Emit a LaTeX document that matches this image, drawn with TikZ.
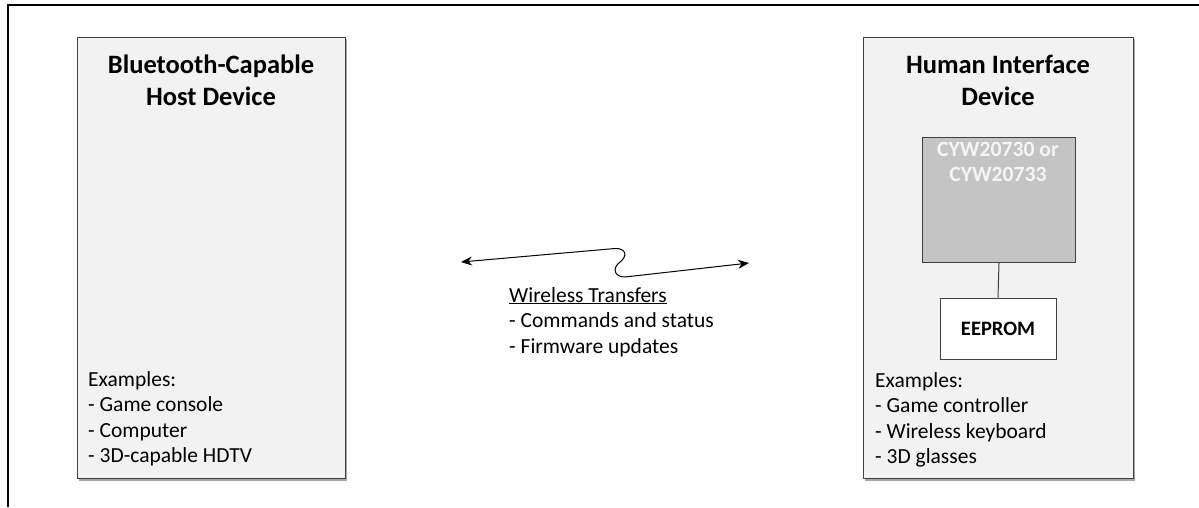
\documentclass[tikz,border=0pt]{standalone}
\usepackage{fontspec}
\setmainfont{Carlito}
\usetikzlibrary{arrows.meta}
\begin{document}
\begin{tikzpicture}[x=1pt,y=-1pt,
  devbox/.style={draw=black!75,line width=1pt,fill=black!5},
  shadowbox/.style={fill=black!35,draw=none},
  chipbox/.style={draw=black!75,line width=1pt,fill=black!23},
  membox/.style={draw=black!75,line width=1pt,fill=white},
  title/.style={font=\fontsize{26.5}{32}\selectfont\bfseries,align=center,anchor=north,inner sep=0pt},
  body/.style={font=\fontsize{21.5}{25.5}\selectfont,align=left,anchor=north west,inner sep=0pt},
  link/.style={line width=1pt,{Stealth[length=11pt,width=9pt]}-{Stealth[length=11pt,width=9pt]}}
]
\useasboundingbox (0,0) rectangle (1199,507);
% outer frame (partly visible)
\coordinate (f1) at (8,5);
\coordinate (f2) at (1199,5);
\coordinate (f3) at (8,507);
\draw[line width=2pt] (f2) -- (f1) -- (f3);

% left device box
\fill[shadowbox] (79,39) rectangle (347,481);
\node[devbox,minimum width=268pt,minimum height=441pt,anchor=north west,inner sep=0pt] (host) at (77,37) {};
\node[title] (hosttitle) at (211,55) {Bluetooth-Capable\\Host Device};
\node[body] (hostex) at (88,371) {Examples:\\- Game console\\- Computer\\- 3D-capable HDTV};

% right device box
\fill[shadowbox] (865,39) rectangle (1135,481);
\node[devbox,minimum width=270pt,minimum height=441pt,anchor=north west,inner sep=0pt] (hid) at (863,37) {};
\node[title] (hidtitle) at (998,55) {Human Interface\\Device};

\node[chipbox,minimum width=153pt,minimum height=125pt,anchor=north west,inner sep=0pt] (chip) at (922,137) {};
\node[font=\fontsize{21.7}{25}\selectfont\bfseries,text=black!4,align=center,anchor=north,inner sep=0pt] (chiptext) at (998,142) {CYW20730 or\\CYW20733};

\node[membox,minimum width=116pt,minimum height=61pt,font=\fontsize{20.5}{24}\selectfont\bfseries] (eeprom) at (998,328.5) {EEPROM};
\draw[black!75,line width=1pt] (chip.south) -- (eeprom.north);

\node[body] (hidex) at (875,372) {Examples:\\- Game controller\\- Wireless keyboard\\- 3D glasses};

% wireless link
\coordinate (la) at (461,262);
\coordinate (lb) at (749,263);
\draw[link] (la) -- (615,248.5) .. controls (626,248) and (628,256) .. (620,262)
  .. controls (612,268) and (614,277) .. (625,277) -- (lb);
\node[body] (wire) at (509,287) {\underline{Wireless Transfers}\\- Commands and status\\- Firmware updates};
\end{tikzpicture}
\end{document}
